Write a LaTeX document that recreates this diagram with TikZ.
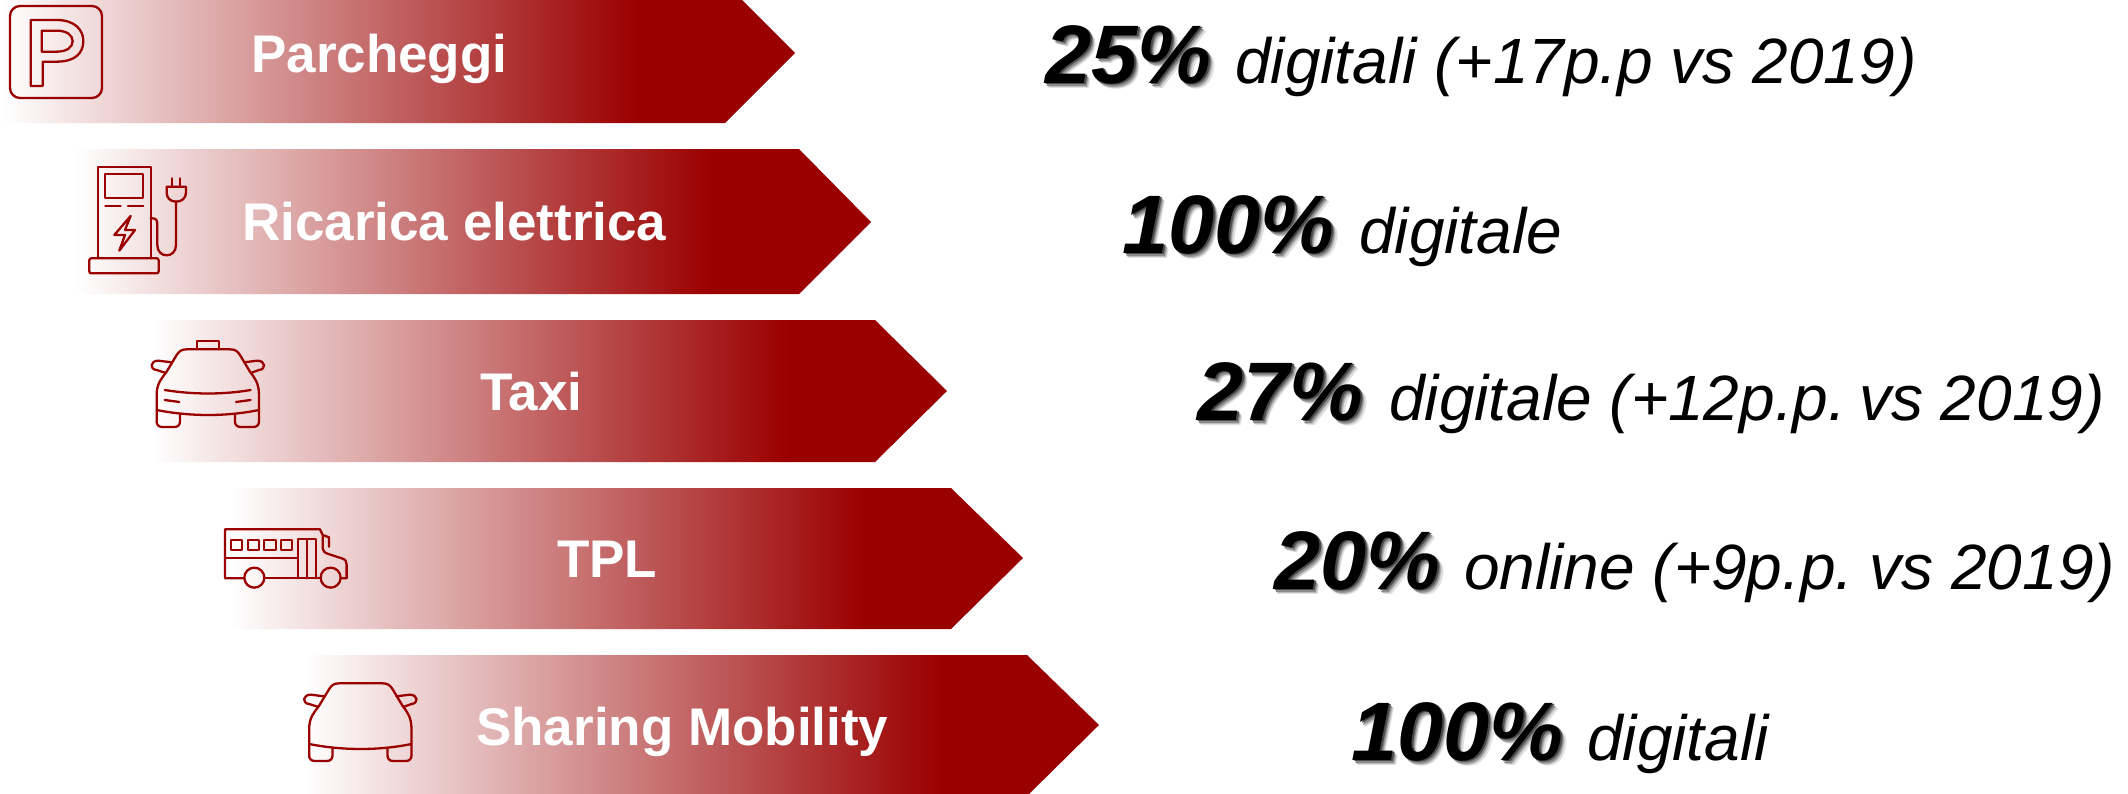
\documentclass[tikz,border=0pt]{standalone}
\usepackage{fontspec}
\setmainfont{Liberation Sans}
\definecolor{dkred}{HTML}{9B0000}
\pgfdeclarehorizontalshading{fadearrow}{100bp}{color(0bp)=(white); color(25bp)=(white); color(65bp)=(dkred); color(100bp)=(dkred)}
\newcommand{\pfrag}[3]{\rlap{\kern#1pt\raisebox{-#2pt}{\textcolor[gray]{#3}{\thefragtext}}}}
\newcommand{\shadowpct}[1]{\def\thefragtext{#1}\pfrag{5.5}{5.5}{0.88}\pfrag{4.2}{4.2}{0.74}\pfrag{3}{3}{0.55}\pfrag{1.8}{1.8}{0.30}#1}
\tikzset{
  arrowshape/.style={shading=fadearrow, draw=none},
  lab/.style={anchor=base west, inner sep=0pt, text=white, font=\fontsize{53}{60}\selectfont\bfseries},
  pct/.style={anchor=base west, inner sep=0pt, text=black, font=\fontsize{83}{90}\selectfont\bfseries\itshape},
  desc/.style={anchor=base west, inner sep=0pt, text=black, font=\fontsize{64}{70}\selectfont\itshape},
  icon/.style={draw=dkred, line width=2.3pt, line join=round, line cap=round, fill=none},
}
\newcommand{\carshape}{
  \draw[icon] (80,305) -- (80,225) .. controls (80,190) and (95,175) .. (110,155)
     -- (140,105) .. controls (148,93) and (155,88) .. (170,88) -- (300,88)
     .. controls (315,88) and (322,93) .. (330,105) -- (360,155)
     .. controls (375,175) and (387,190) .. (387,225) -- (387,305)
     .. controls (387,315) and (380,321) .. (370,321) -- (332,321)
     .. controls (322,321) and (315,315) .. (315,305) -- (315,281);
  \draw[icon] (80,305) .. controls (80,315) and (87,321) .. (97,321) -- (133,321)
     .. controls (143,321) and (150,315) .. (150,305) -- (150,281);
  \draw[icon] (80,270) .. controls (180,290) and (290,290) .. (387,270);
  \draw[icon] (125,127) -- (85,122) .. controls (60,122) and (58,148) .. (80,150) -- (105,158);
  \draw[icon] (342,127) -- (382,122) .. controls (407,122) and (409,148) .. (387,150) -- (365,158);
}
\begin{document}
\begin{tikzpicture}[x=1pt,y=-1pt]
\useasboundingbox (0,0) rectangle (2128,793);
\clip (0,0) rectangle (2128,793);
% arrows
\path[arrowshape] (3,-17) -- (725,-17) -- (795,53) -- (725,123) -- (3,123) -- cycle;
\path[arrowshape] (75,149) -- (799,149) -- (871,222) -- (799,294) -- (75,294) -- cycle;
\path[arrowshape] (152,320) -- (875,320) -- (947,391) -- (875,462) -- (152,462) -- cycle;
\path[arrowshape] (230,488) -- (951,488) -- (1023,558) -- (951,629) -- (230,629) -- cycle;
\path[arrowshape] (305,655) -- (1027,655) -- (1099,725) -- (1027,796) -- (305,796) -- cycle;
% labels
\node[lab] (l1) at (251,72) {Parcheggi};
\node[lab] (l2) at (242,240) {Ricarica elettrica};
\node[lab] (l3) at (480,410) {Taxi};
\node[lab] (l4) at (557,577) {TPL};
\node[lab] (l5) at (476,745) {Sharing Mobility};
% percentages
\node[pct] (p1) at (1045,83) {\shadowpct{25\%}};
\node[desc] (d1) at (1235,83) {digitali (+17p.p vs 2019)};
\node[pct] (p2) at (1122,253) {\shadowpct{100\%}};
\node[desc] (d2) at (1359,253) {digitale};
\node[pct] (p3) at (1197,420) {\shadowpct{27\%}};
\node[desc] (d3) at (1389,420) {digitale (+12p.p.\kern-11pt{} vs 2019)};
\node[pct] (p4) at (1274,589) {\shadowpct{20\%}};
\node[desc] (d4) at (1464,589) {online (+9p.p.\kern-8pt{} vs 2019)};
\node[pct] (p5) at (1351,760) {\shadowpct{100\%}};
\node[desc] (d5) at (1587,760) {digitali};
% parking icon
\begin{scope}[scale=0.3333]
  \draw[icon, rounded corners=30pt*0.3333] (30,18) rectangle (306,294);
  \draw[icon] (92,258) -- (92,60) -- (170,60) .. controls (225,60) and (250,90) .. (250,123)
     .. controls (250,160) and (225,185) .. (170,185) -- (128,185) -- (128,258) -- cycle;
  \draw[icon] (125,92) -- (170,92) .. controls (200,92) and (218,105) .. (218,124)
     .. controls (218,142) and (200,155) .. (170,155) -- (125,155) -- cycle;
  % charger icon
  \draw[icon] (293,775) -- (293,500) -- (452,500) -- (452,775);
  \draw[icon] (316,522) rectangle (430,595);
  \draw[icon] (316,617) -- (362,617);
  \draw[icon] (384,617) -- (430,617);
  \draw[icon] (392,648) -- (343,705) -- (375,705) -- (358,752) -- (405,690) -- (375,690) -- cycle;
  \draw[icon, rounded corners=2pt] (268,775) rectangle (476,820);
  \draw[icon] (452,655) -- (458,655) .. controls (468,655) and (472,662) .. (472,672) -- (472,735)
     .. controls (472,755) and (485,766) .. (500,766) .. controls (515,766) and (528,755) .. (528,735) -- (528,605);
  \draw[icon] (500,560) -- (558,560) -- (558,578) .. controls (558,595) and (545,605) .. (528,605)
     .. controls (512,605) and (500,595) .. (500,578) -- cycle;
  \draw[icon] (515,535) -- (515,560);
  \draw[icon] (540,535) -- (540,560);
\end{scope}
% taxi icon
\begin{scope}[shift={(130,320)},scale=0.3333]
  \carshape
  \draw[icon] (201,88) -- (201,62) -- (267,62) -- (267,88);
  \draw[icon] (104,210) .. controls (190,224) and (280,224) .. (362,210);
  \draw[icon] (104,240) -- (148,246);
  \draw[icon] (362,240) -- (318,246);
  % bus icon
  \draw[icon] (342,775) -- (285,775) -- (285,628) -- (570,628) -- (578,645) -- (578,685)
     .. controls (578,695) and (585,698) .. (595,702) -- (638,716) .. controls (648,720) and (650,725) .. (650,735) -- (650,775) -- (634,775);
  \draw[icon] (403,775) -- (572,775);
  \draw[icon] (373,773) circle (30);
  \draw[icon] (602,773) circle (30);
  \draw[icon] (303,660) rectangle (337,690);
  \draw[icon] (353,660) rectangle (387,690);
  \draw[icon] (403,660) rectangle (437,690);
  \draw[icon] (453,660) rectangle (487,690);
  \draw[icon] (503,775) -- (503,658) -- (557,658) -- (557,775);
  \draw[icon] (530,658) -- (530,775);
  \draw[icon] (285,715) -- (503,715);
  \draw[icon] (578,645) -- (597,652) -- (597,680);
\end{scope}
% sharing car icon
\begin{scope}[shift={(282.5,654)},scale=0.3333]
  \carshape
\end{scope}
\end{tikzpicture}
\end{document}
